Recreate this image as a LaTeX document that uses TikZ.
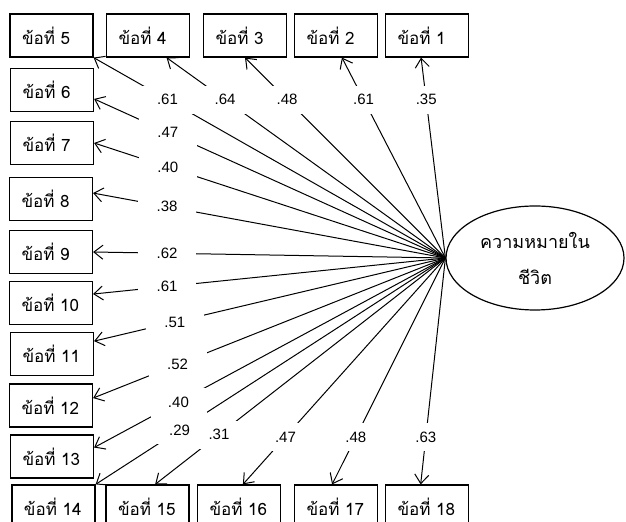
\documentclass[tikz,border=0pt]{standalone}
\usepackage{fontspec}
\setmainfont{Liberation Sans}
\newfontfamily\thaifont[Script=Thai]{Loma}
\usetikzlibrary{shapes.geometric,arrows.meta}

\begin{document}
\begin{tikzpicture}[
    x=0.5pt, y=-0.5pt,
    item/.style={draw, line width=0.6pt, minimum width=41.5pt, minimum height=21.5pt, text width=29.5pt, inner xsep=6pt, align=left, font=\thaifont\fontsize{8.5}{10}\selectfont},
    factor/.style={draw, ellipse, line width=0.6pt, minimum width=89pt, minimum height=52pt, inner sep=0pt, align=center, font=\thaifont\fontsize{9}{18}\selectfont},
    load/.style={line width=0.5pt, -{Straight Barb[length=4.5pt,width=7pt]}},
    coef/.style={fill=white, minimum width=29pt, minimum height=14pt, inner sep=0pt, font=\fontsize{7.5}{8}\selectfont}
]
\useasboundingbox (0,0) rectangle (626,522);

% Latent factor
\node[factor] (lv) at (535,258) {ความหมายใน\\ชีวิต};

% Top row
\node[item] (b5) at (51.5,35.5) {ข้อที่ 5};
\node[item] (b4) at (148,35.5) {ข้อที่ 4};
\node[item] (b3) at (245,35.5) {ข้อที่ 3};
\node[item] (b2) at (336,35.5) {ข้อที่ 2};
\node[item] (b1) at (427,35.5) {ข้อที่ 1};

% Left column
\node[item] (b6) at (52,90) {ข้อที่ 6};
\node[item] (b7) at (52,143) {ข้อที่ 7};
\node[item] (b8) at (51,199) {ข้อที่ 8};
\node[item] (b9) at (51,252) {ข้อที่ 9};
\node[item] (b10) at (51,303) {ข้อที่ 10};
\node[item] (b11) at (52,354) {ข้อที่ 11};
\node[item] (b12) at (51,405.5) {ข้อที่ 12};
\node[item] (b13) at (52,456.5) {ข้อที่ 13};

% Bottom row
\node[item] (b14) at (53.5,506.5) {ข้อที่ 14};
\node[item] (b15) at (147.5,506.5) {ข้อที่ 15};
\node[item] (b16) at (239,506.5) {ข้อที่ 16};
\node[item] (b17) at (336,506.5) {ข้อที่ 17};
\node[item] (b18) at (427,506.5) {ข้อที่ 18};

% Loadings
\draw[load] (lv.west) -- (b1.-105);
\draw[load] (lv.west) -- (b2.-75);
\draw[load] (lv.west) -- (b3.south);
\draw[load] (lv.west) -- (b4.-50);
\draw[load] (lv.west) -- (b5.south east);
\draw[load] (lv.west) -- (b6.-12);
\draw[load] (lv.west) -- (b7.east);
\draw[load] (lv.west) -- (b8.8);
\draw[load] (lv.west) -- (b9.east);
\draw[load] (lv.west) -- (b10.12);
\draw[load] (lv.west) -- (b11.17);
\draw[load] (lv.west) -- (b12.10);
\draw[load] (lv.west) -- (b13.12);
\draw[load] (lv.west) -- (b14.north east);
\draw[load] (lv.west) -- (b15.71);
\draw[load] (lv.west) -- (b16.80);
\draw[load] (lv.west) -- (b17.100);
\draw[load] (lv.west) -- (b18.106);

% Coefficients
\path (lv.west) -- node[coef, pos=0.79] {.35} (b1.-105);
\path (lv.west) -- node[coef, pos=0.79] {.61} (b2.-75);
\path (lv.west) -- node[coef, pos=0.79] {.48} (b3.south);
\path (lv.west) -- node[coef, pos=0.79] {.64} (b4.-50);
\path (lv.west) -- node[coef, pos=0.79] {.61} (b5.south east);
\path (lv.west) -- node[coef, pos=0.79] {.47} (b6.-12);
\path (lv.west) -- node[coef, pos=0.79] {.40} (b7.east);
\path (lv.west) -- node[coef, pos=0.79] {.38} (b8.8);
\path (lv.west) -- node[coef, pos=0.79] {.62} (b9.east);
\path (lv.west) -- node[coef, pos=0.79] {.61} (b10.12);
\path (lv.west) -- node[coef, pos=0.77] {.51} (b11.17);
\path (lv.west) -- node[coef, pos=0.76] {.52} (b12.10);
\path (lv.west) -- node[coef, pos=0.76] {.40} (b13.12);
\path (lv.west) -- node[coef, pos=0.76] {.29} (b14.north east);
\path (lv.west) -- node[coef, pos=0.78] {.31} (b15.71);
\path (lv.west) -- node[coef, pos=0.79] {.47} (b16.80);
\path (lv.west) -- node[coef, pos=0.79] {.48} (b17.100);
\path (lv.west) -- node[coef, pos=0.79] {.63} (b18.106);
\end{tikzpicture}
\end{document}
